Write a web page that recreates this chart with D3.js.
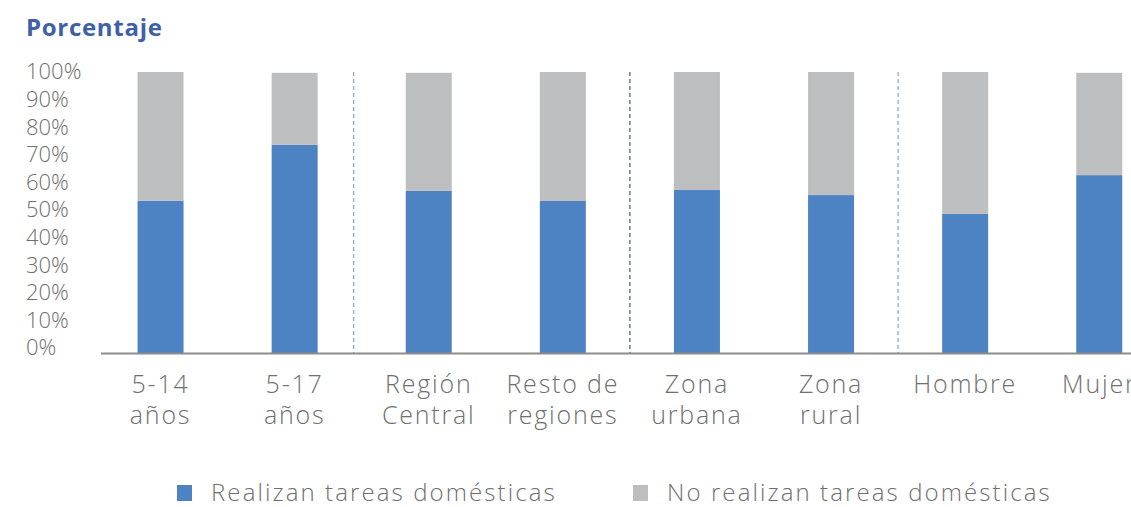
<!DOCTYPE html>
<html>
<head>
<meta charset="utf-8">
<script src="https://cdn.jsdelivr.net/npm/d3@7"></script>
<style>
  html, body { margin: 0; padding: 0; background: #fff; }
  svg { display: block; }
  text { font-family: "Open Sans", Lato, sans-serif; }
</style>
</head>
<body>
<svg id="chart" width="1131" height="507"></svg>
<script>
// Categories (two-line labels)
const categories = ["5-14 años", "5-17 años", "Región Central", "Resto de regiones",
                    "Zona urbana", "Zona rural", "Hombre", "Mujer"];
const labelLines = [["5-14", "años"], ["5-17", "años"], ["Región", "Central"], ["Resto de", "regiones"],
                    ["Zona", "urbana"], ["Zona", "rural"], ["Hombre"], ["Mujer"]];
// Percentage of children who do household chores
const realizan = [54.2, 74.1, 57.7, 54.1, 58.0, 56.2, 49.5, 63.3];
// Percentage who do not
const noRealizan = [45.8, 25.6, 42.0, 45.9, 42.0, 43.8, 50.5, 36.4];
const yTicks = [0, 10, 20, 30, 40, 50, 60, 70, 80, 90, 100];
// Group separators, in category-index units
const separators = [1.44, 3.5, 5.5];
const separatorColors = ["#8ea8d6", "#4f6291", "#8ea8d6"];
const seriesNames = ["Realizan tareas domésticas", "No realizan tareas domésticas"];
const seriesColors = ["#4e83c3", "#bdbec0"];

const svg = d3.select("#chart");

const x = d3.scaleBand().domain(categories).range([93.5, 1166.3]).paddingInner(0.657).paddingOuter(0.3285);
const step = x.step();
const xc = c => x(c) + x.bandwidth() / 2;
const xIdx = i => xc(categories[0]) + i * step;
const y = d3.scaleLinear().domain([0, 100]).range([353, 72]);
const yLabel = d3.scaleLinear().domain([0, 100]).range([347.5, 71.5]);

// Title
svg.append("text").attr("x", 26).attr("y", 36)
  .attr("fill", "#3f60a9").attr("font-size", 24).attr("font-weight", 700)
  .attr("letter-spacing", 0.7)
  .text("Porcentaje");

// Y tick labels
svg.append("g").selectAll("text").data(yTicks).join("text")
  .attr("x", 26).attr("y", d => yLabel(d)).attr("dy", "0.36em")
  .attr("fill", "#6f6f6f").attr("font-size", 22).attr("font-weight", 300)
  .text(d => d + "%");

// Stacked data
const rows = categories.map((c, i) => ({ cat: c, realizan: realizan[i], noRealizan: noRealizan[i] }));
const stack = d3.stack().keys(["realizan", "noRealizan"])(rows);

svg.append("g").selectAll("g").data(stack).join("g")
  .attr("fill", (d, i) => seriesColors[i])
  .selectAll("rect").data(d => d).join("rect")
  .attr("x", d => x(d.data.cat))
  .attr("width", x.bandwidth())
  .attr("y", d => y(d[1]))
  .attr("height", d => y(d[0]) - y(d[1]));

// Group separators
svg.append("g").selectAll("line").data(separators).join("line")
  .attr("x1", d => xIdx(d)).attr("x2", d => xIdx(d))
  .attr("y1", y(100)).attr("y2", y(0))
  .attr("stroke", (d, i) => separatorColors[i]).attr("stroke-width", 1.3)
  .attr("stroke-dasharray", "4,3");

// Baseline
svg.append("line").attr("x1", 101).attr("x2", 1131).attr("y1", y(0) + 0.5).attr("y2", y(0) + 0.5)
  .attr("stroke", "#8c8c8c").attr("stroke-width", 2);

// Category labels
const lab = svg.append("g").selectAll("text").data(categories).join("text")
  .attr("x", d => xc(d)).attr("y", 393)
  .attr("text-anchor", "middle").attr("fill", "#6f6f6f")
  .attr("font-size", 25).attr("font-weight", 300).attr("letter-spacing", 1.8);
lab.selectAll("tspan").data((d, i) => labelLines[i]).join("tspan")
  .attr("x", function () { return d3.select(this.parentNode).attr("x"); })
  .attr("dy", (d, i) => i === 0 ? 0 : 31)
  .text(d => d);

// Legend
const legendX = [177, 633];
const lg = svg.append("g").selectAll("g").data(seriesNames).join("g")
  .attr("transform", (d, i) => `translate(${legendX[i]},485)`);
lg.append("rect").attr("width", 15).attr("height", 16).attr("fill", (d, i) => seriesColors[i]);
lg.append("text").attr("x", 34).attr("y", 16)
  .attr("fill", "#6f6f6f").attr("font-size", 24).attr("font-weight", 300)
  .attr("letter-spacing", 2.1)
  .text(d => d);
</script>
</body>
</html>
